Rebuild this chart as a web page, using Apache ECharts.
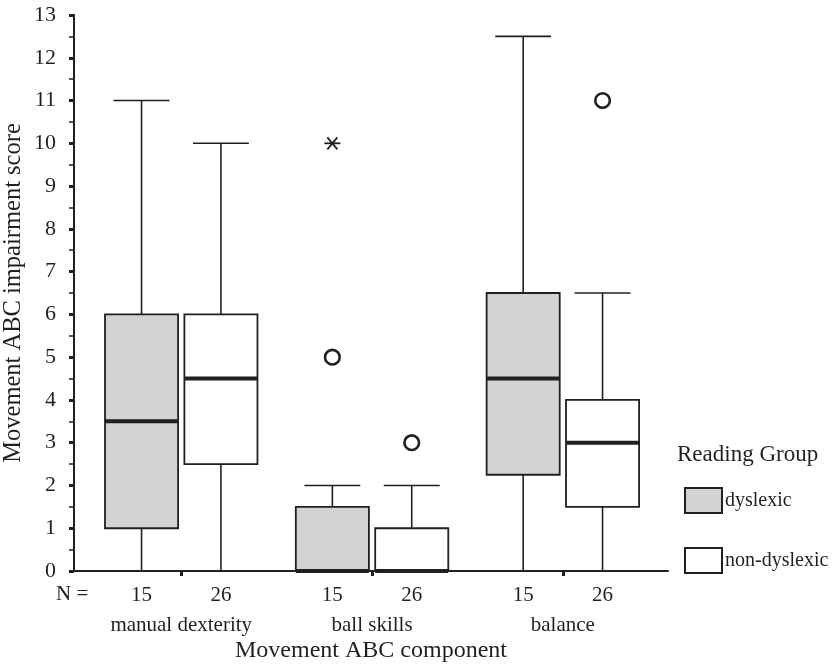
<!DOCTYPE html>
<html>
<head>
<meta charset="utf-8">
<script src="https://cdn.jsdelivr.net/npm/echarts@6/dist/echarts.min.js"></script>
<style>html,body{margin:0;padding:0;background:#fff;}#c{width:836px;height:667px;}</style>
</head>
<body>
<div id="c"></div>
<script>
// ---- data ----
const categories = ['manual dexterity', 'ball skills', 'balance'];
const groupNames = ['dyslexic', 'non-dyslexic'];
const groupN = [15, 26];
// [min, Q1, median, Q3, max] per category
const dyslexicBoxes = [[0, 1, 3.5, 6, 11], [0, 0, 0, 1.5, 2], [0, 2.25, 4.5, 6.5, 12.5]];
const nonDyslexicBoxes = [[0, 2.5, 4.5, 6, 10], [0, 0, 0, 1, 2], [0, 1.5, 3, 4, 6.5]];
// [categoryIndex, value]
const dyslexicOutliers = [[1, 5]];
const dyslexicExtremes = [[1, 10]];
const nonDyslexicOutliers = [[1, 3], [2, 11]];
const yTicks = [0,1,2,3,4,5,6,7,8,9,10,11,12,13];

// ---- style / layout ----
const FONT = 'Liberation Serif';
const INK = '#231f20';
const GRAY = '#d2d3d5';
const OFFSET = 0.208, BOX_W = 0.383, CAP_W = 0.293;

function boxRender(offset, fill, nLabel) {
  return function (params, api) {
    const x = api.value(0) + offset;
    const lo = api.coord([x, api.value(1)]);
    const q1 = api.coord([x, api.value(2)]);
    const md = api.coord([x, api.value(3)]);
    const q3 = api.coord([x, api.value(4)]);
    const hi = api.coord([x, api.value(5)]);
    const half = api.size([BOX_W, 0])[0] / 2;
    const cap = api.size([CAP_W, 0])[0] / 2;
    const cx = q1[0];
    const ls = { stroke: INK, lineWidth: 1.6 };
    const base = api.coord([x, 0]);
    return {
      type: 'group',
      children: [
        { type: 'line', shape: { x1: cx, y1: q1[1], x2: cx, y2: lo[1] }, style: ls },
        { type: 'line', shape: { x1: cx, y1: q3[1], x2: cx, y2: hi[1] }, style: ls },
        { type: 'line', shape: { x1: cx - cap, y1: hi[1], x2: cx + cap, y2: hi[1] }, style: ls },
        { type: 'rect', shape: { x: cx - half, y: q3[1], width: half * 2, height: q1[1] - q3[1] },
          style: { fill: fill, stroke: INK, lineWidth: 1.8 } },
        { type: 'line', shape: { x1: cx - half, y1: md[1], x2: cx + half, y2: md[1] },
          style: { stroke: INK, lineWidth: 4 } },
        { type: 'text', x: cx, y: base[1] + 24,
          style: { text: String(nLabel), fill: INK, font: '21px "' + FONT + '"', align: 'center', verticalAlign: 'middle' } }
      ]
    };
  };
}

function circleRender(params, api) {
  const p = api.coord([api.value(0), api.value(1)]);
  return { type: 'circle', shape: { cx: p[0], cy: p[1], r: 7.3 }, style: { fill: '#fff', stroke: INK, lineWidth: 2.6 } };
}
function starRender(params, api) {
  const p = api.coord([api.value(0), api.value(1)]);
  const s = { stroke: INK, lineWidth: 1.8 };
  return { type: 'group', children: [
    { type: 'line', shape: { x1: p[0] - 8, y1: p[1], x2: p[0] + 8, y2: p[1] }, style: s },
    { type: 'line', shape: { x1: p[0] - 5, y1: p[1] - 6, x2: p[0] + 5, y2: p[1] + 6 }, style: s },
    { type: 'line', shape: { x1: p[0] + 5, y1: p[1] - 6, x2: p[0] - 5, y2: p[1] + 6 }, style: s }
  ]};
}

const toBoxData = arr => arr.map((b, i) => [i].concat(b));
const shift = (arr, off) => arr.map(d => [d[0] + off, d[1]]);

const option = {
  animation: false,
  backgroundColor: '#fff',
  textStyle: { fontFamily: FONT, color: INK },
  grid: { left: 74, right: 168, top: 15, bottom: 96, containLabel: false, outerBoundsMode: 'none' },
  title: {
    text: 'Reading Group', left: 677, top: 443, padding: 0,
    textStyle: { fontFamily: FONT, fontSize: 23, fontWeight: 'normal', color: INK }
  },
  legend: {
    orient: 'vertical', left: 684, top: 487, itemWidth: 37, itemHeight: 25, itemGap: 33, padding: 0,
    textStyle: { fontFamily: FONT, fontSize: 20, color: INK, padding: [0, 0, 0, -2] },
    data: [
      { name: groupNames[0], icon: 'rect', itemStyle: { color: GRAY, borderColor: INK, borderWidth: 2 } },
      { name: groupNames[1], icon: 'rect', itemStyle: { color: '#fff', borderColor: INK, borderWidth: 2 } }
    ]
  },
  graphic: [
    { type: 'text', left: 56, top: 584, style: { text: 'N =', font: '21px "' + FONT + '"', fill: INK } }
  ],
  xAxis: {
    type: 'value', min: -0.562, max: 2.551,
    name: 'Movement ABC component', nameLocation: 'middle', nameGap: 68, nameMoveOverlap: false,
    nameTextStyle: { fontFamily: FONT, fontSize: 24, color: INK },
    axisLine: { show: true, onZero: false, lineStyle: { color: INK, width: 1.8 } },
    axisTick: { show: true, customValues: [0, 1, 2], length: 5, lineStyle: { color: INK, width: 3 } },
    axisLabel: { customValues: [0, 1, 2], formatter: v => categories[Math.round(v)] || '',
      margin: 44, fontFamily: FONT, fontSize: 21, color: INK },
    splitLine: { show: false }
  },
  yAxis: {
    type: 'value', min: yTicks[0], max: yTicks[yTicks.length - 1], interval: 1,
    name: 'Movement ABC impairment score', nameLocation: 'middle', nameGap: 48, nameMoveOverlap: false,
    nameTextStyle: { fontFamily: FONT, fontSize: 24.5, color: INK },
    axisLine: { show: true, onZero: false, lineStyle: { color: INK, width: 2 } },
    axisTick: { show: true, length: 5, lineStyle: { color: INK, width: 3 } },
    minorTick: { show: true, splitNumber: 2, length: 5, lineStyle: { color: INK, width: 1.5 } },
    axisLabel: { margin: 18, fontFamily: FONT, fontSize: 22, color: INK },
    splitLine: { show: false }, minorSplitLine: { show: false }
  },
  series: [
    { name: groupNames[0], type: 'custom', clip: false, renderItem: boxRender(-OFFSET, GRAY, groupN[0]),
      encode: { x: 0, y: [1, 2, 3, 4, 5] }, data: toBoxData(dyslexicBoxes), itemStyle: { color: GRAY } },
    { name: groupNames[1], type: 'custom', clip: false, renderItem: boxRender(OFFSET, '#fff', groupN[1]),
      encode: { x: 0, y: [1, 2, 3, 4, 5] }, data: toBoxData(nonDyslexicBoxes), itemStyle: { color: '#fff' } },
    { name: 'dys-out', type: 'custom', renderItem: circleRender, encode: { x: 0, y: 1 },
      data: shift(dyslexicOutliers, -OFFSET) },
    { name: 'dys-ext', type: 'custom', renderItem: starRender, encode: { x: 0, y: 1 },
      data: shift(dyslexicExtremes, -OFFSET) },
    { name: 'non-out', type: 'custom', renderItem: circleRender, encode: { x: 0, y: 1 },
      data: shift(nonDyslexicOutliers, OFFSET) }
  ]
};

const chart = echarts.init(document.getElementById('c'), null, { renderer: 'canvas' });
chart.setOption(option);
</script>
</body>
</html>
